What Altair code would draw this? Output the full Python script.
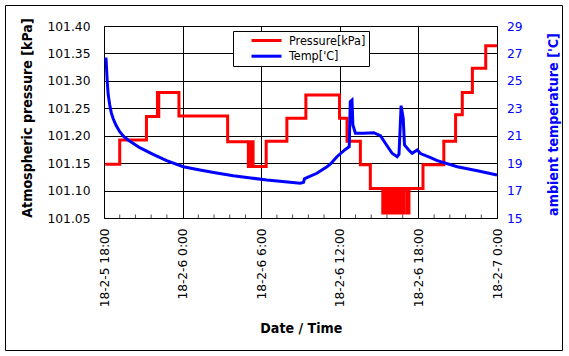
import json
import altair as alt
import pandas as pd

# ---------------- data ----------------
x_tick_hours = [0, 6, 12, 18, 24, 30]
x_tick_labels = ["18-2-5 18:00", "18-2-6 0:00", "18-2-6 6:00",
                 "18-2-6 12:00", "18-2-6 18:00", "18-2-7 0:00"]
minor_tick_hours = [1.2, 2.4, 3.6, 4.8, 7.2, 8.4, 9.6, 10.8, 13.2, 14.4,
                    15.6, 16.8, 19.2, 20.4, 21.6, 22.8, 25.2, 26.4, 27.6, 28.8]
pressure_ticks = [101.05, 101.10, 101.15, 101.20, 101.25, 101.30, 101.35, 101.40]
temp_ticks = [15, 17, 19, 21, 23, 25, 27, 29]
series_names = ["Pressure[kPa]", "Temp['C]"]
series_colors = ["#FF0000", "#0000FF"]

# hours after 18-2-5 18:00
pressure_hours = [0.1, 1.2, 3.24, 4.08, 4.13, 4.18, 5.72, 9.44,
                  11.02, 11.08, 11.14, 11.2, 11.26, 11.32, 11.38,
                  12.38, 13.96, 15.41, 17.98, 18.55, 19.57, 20.33,
                  21.28, 21.4, 21.5, 21.62, 21.72, 21.85, 21.95, 22.08,
                  22.18, 22.3, 22.4, 22.52, 22.62, 22.74, 22.82, 22.88,
                  23.12, 23.28,
                  24.35, 25.94, 26.84, 27.35, 28.12, 29.14, 30.0]
pressure_kpa = [101.148, 101.192, 101.235, 101.279, 101.235, 101.279, 101.236, 101.189,
                101.144, 101.189, 101.144, 101.189, 101.144, 101.189, 101.144,
                101.190, 101.232, 101.274, 101.232, 101.190, 101.147, 101.104,
                101.059, 101.104, 101.059, 101.104, 101.059, 101.104, 101.059, 101.104,
                101.059, 101.104, 101.059, 101.104, 101.059, 101.104, 101.059, 101.104,
                101.059, 101.104,
                101.147, 101.190, 101.238, 101.279, 101.323, 101.364, 101.364]

temp_hours = [0.15, 0.2, 0.25, 0.32, 0.44, 0.55, 0.69, 0.9, 1.2, 1.5, 1.84,
              2.73, 3.75, 4.78, 6.05, 7.32, 8.6, 9.87, 11.2, 12.43, 14.21,
              14.98, 15.23, 15.3, 15.49, 16.25, 17.02, 17.27, 17.78, 18.42,
              18.72, 18.8, 18.93, 19.0, 19.19, 19.82, 20.59, 21.1, 21.48,
              21.99, 22.38, 22.52, 22.68, 22.84, 22.94, 23.26, 23.52, 23.91,
              24.16, 24.93, 25.44, 26.97, 28.5, 30.0]
temp_c = [26.7, 25.8, 24.9, 24.0, 23.24, 22.7, 22.27, 21.8, 21.29, 20.95, 20.69,
          20.13, 19.64, 19.18, 18.74, 18.50, 18.28, 18.08, 17.92, 17.77, 17.60,
          17.53, 17.6, 17.85, 17.94, 18.26, 18.74, 18.92, 19.47, 20.0,
          20.2, 23.48, 23.6, 21.78, 21.18, 21.18, 21.22, 21.0, 20.45,
          19.72, 19.47, 19.65, 23.19, 22.27, 20.32, 19.96, 19.72, 19.96,
          19.7, 19.4, 19.18, 18.74, 18.45, 18.14]

pdf = pd.DataFrame({"hour": pressure_hours, "kpa": pressure_kpa,
                    "series": series_names[0]})
tdf = pd.DataFrame({"hour": temp_hours, "temp": temp_c,
                    "series": series_names[1]})
mdf = pd.DataFrame({"hour": minor_tick_hours})

TICK_FONT = "DejaVu Sans"
TITLE_FONT = "DejaVu Sans Condensed"

x_axis = alt.Axis(
    values=x_tick_hours,
    labelExpr=json.dumps(x_tick_labels) + "[round(datum.value / 6)]",
    labelAngle=270, labelFont=TICK_FONT, labelFontSize=12.2, labelColor="black",
    labelPadding=10, labelOverlap=False, labelFlush=False, labelBound=False,
    ticks=False, tickSize=0, domain=False,
    grid=True, gridColor="black", gridWidth=1, gridOpacity=1,
    title="Date / Time", titleFont=TITLE_FONT, titleFontSize=14.1,
    titleFontWeight="bold", titleColor="black",
    titleX=196.8, titleY=114.7, titleAlign="center", titleBaseline="alphabetic",
)
left_axis = alt.Axis(
    values=pressure_ticks, format=".2f",
    labelFont=TICK_FONT, labelFontSize=12.3, labelColor="black", labelPadding=14,
    labelOverlap=False, labelFlush=False, labelBound=False,
    ticks=False, tickSize=0, domain=False,
    grid=True, gridColor="black", gridWidth=1, gridOpacity=1,
    title="Atmospheric pressure [kPa]", titleFont=TITLE_FONT, titleFontSize=14.1,
    titleFontWeight="bold", titleColor="black", titleAngle=270,
    titleX=-72.3, titleY=91.5, titleAlign="center", titleBaseline="alphabetic",
)
right_axis = alt.Axis(
    orient="right", values=temp_ticks,
    labelFont=TICK_FONT, labelFontSize=12.3, labelColor="#0000FF", labelPadding=9.5,
    labelOverlap=False, labelFlush=False, labelBound=False,
    ticks=False, tickSize=0, domain=False, grid=False,
    title="ambient temperature ['C]", titleFont=TITLE_FONT, titleFontSize=14.1,
    titleFontWeight="bold", titleColor="#0000FF", titleAngle=270,
    titleX=60.3, titleY=98, titleAlign="center", titleBaseline="alphabetic",
)

color_scale = alt.Scale(domain=series_names, range=series_colors)
legend = alt.Legend(
    orient="none", legendX=129, legendY=5, title=None,
    padding=3, symbolType="M-3,0H3", symbolSize=100, symbolStrokeWidth=3,
    symbolOffset=24, labelOffset=16, rowPadding=2.7,
    labelFont=TITLE_FONT, labelFontSize=12.5, labelColor="black",
    strokeColor="black", fillColor="white",
)

x_scale = alt.Scale(domain=[0, 30], nice=False, zero=False)
p_scale = alt.Scale(domain=[101.05, 101.40], nice=False, zero=False)

red = alt.Chart(pdf).mark_line(interpolate="step-after", strokeWidth=3).encode(
    x=alt.X("hour:Q", scale=x_scale, axis=x_axis),
    y=alt.Y("kpa:Q", scale=p_scale, axis=left_axis),
    color=alt.Color("series:N", scale=color_scale, legend=legend),
)
minor = alt.Chart(mdf).mark_tick(orient="vertical", size=3.5, thickness=1,
                                 yOffset=-1.75, color="black").encode(
    x=alt.X("hour:Q", scale=x_scale, axis=x_axis),
    y=alt.YDatum(101.05, scale=p_scale, axis=left_axis),
)
blue = alt.Chart(tdf).mark_line(strokeWidth=3).encode(
    x=alt.X("hour:Q", scale=x_scale, axis=x_axis),
    y=alt.Y("temp:Q", scale=alt.Scale(domain=[15, 29], nice=False, zero=False),
            axis=right_axis),
    color=alt.Color("series:N"),
)
frame = alt.Chart(pd.DataFrame({"k": [0]})).mark_rect(
    fill="white", fillOpacity=0, stroke="black", strokeWidth=1).encode(
    x=alt.value(-98.5), x2=alt.value(458.5), y=alt.value(-20.5), y2=alt.value(324.5)
)

chart = alt.layer(frame, alt.layer(red, minor), blue).resolve_scale(
    y="independent"
).properties(
    width=393, height=192,
    padding={"left": 104, "top": 26, "right": 72, "bottom": 138},
    autosize=alt.AutoSizeParams(type="none"),
    background="white",
).configure_view(stroke="black", strokeWidth=1)

chart.save("out.html", embed_options={"renderer": "svg", "actions": False})
